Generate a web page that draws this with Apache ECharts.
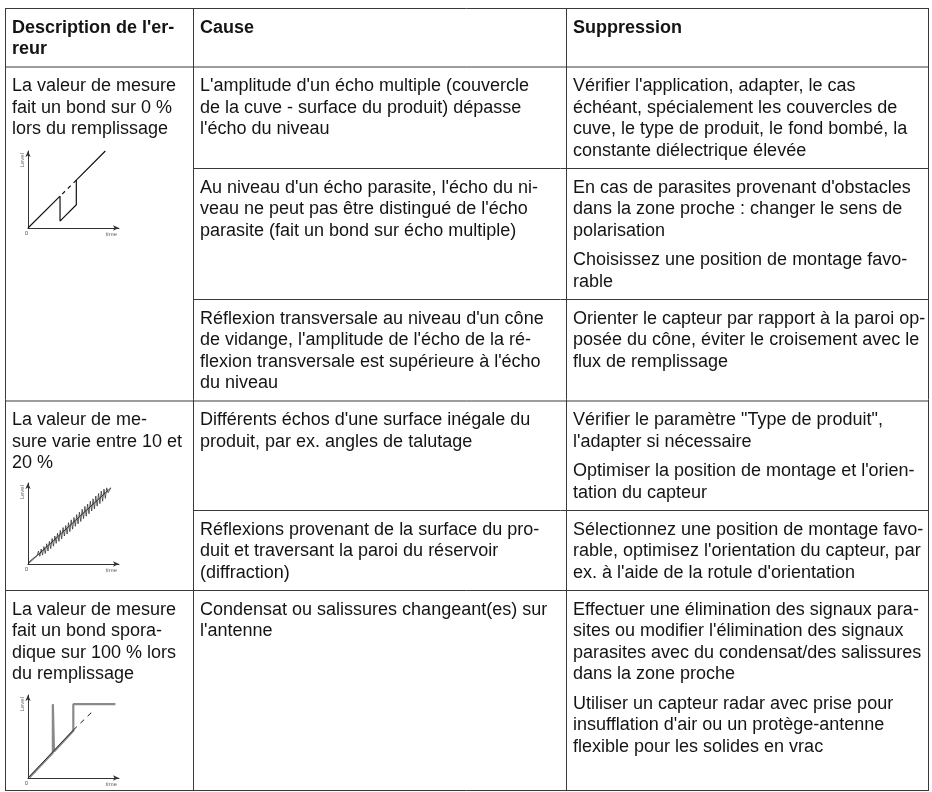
<!DOCTYPE html>
<html><head><meta charset="utf-8">
<script src="https://cdn.jsdelivr.net/npm/echarts@6/dist/echarts.min.js"></script>
<style>html,body{margin:0;padding:0;background:#fff}#c{width:932px;height:792px}</style>
</head><body><div id="c"></div>
<script>
// ---------- table text ----------
const headerCells = [["Description de l'er-", "reur"], ["Cause"], ["Suppression"]];
const descriptions = [
  ["La valeur de mesure", "fait un bond sur 0 %", "lors du remplissage"],
  ["La valeur de me-", "sure varie entre 10 et", "20 %"],
  ["La valeur de mesure", "fait un bond spora-", "dique sur 100 % lors", "du remplissage"]
];
const causes = [
  ["L'amplitude d'un écho multiple (couvercle", "de la cuve - surface du produit) dépasse", "l'écho du niveau"],
  ["Au niveau d'un écho parasite, l'écho du ni-", "veau ne peut pas être distingué de l'écho", "parasite (fait un bond sur écho multiple)"],
  ["Réflexion transversale au niveau d'un cône", "de vidange, l'amplitude de l'écho de la ré-", "flexion transversale est supérieure à l'écho", "du niveau"],
  ["Différents échos d'une surface inégale du", "produit, par ex. angles de talutage"],
  ["Réflexions provenant de la surface du pro-", "duit et traversant la paroi du réservoir", "(diffraction)"],
  ["Condensat ou salissures changeant(es) sur", "l'antenne"]
];
const remedies = [
  [["Vérifier l'application, adapter, le cas", "échéant, spécialement les couvercles de", "cuve, le type de produit, le fond bombé, la", "constante diélectrique élevée"]],
  [["En cas de parasites provenant d'obstacles", "dans la zone proche : changer le sens de", "polarisation"], ["Choisissez une position de montage favo-", "rable"]],
  [["Orienter le capteur par rapport à la paroi op-", "posée du cône, éviter le croisement avec le", "flux de remplissage"]],
  [["Vérifier le paramètre \"Type de produit\",", "l'adapter si nécessaire"], ["Optimiser la position de montage et l'orien-", "tation du capteur"]],
  [["Sélectionnez une position de montage favo-", "rable, optimisez l'orientation du capteur, par", "ex. à l'aide de la rotule d'orientation"]],
  [["Effectuer une élimination des signaux para-", "sites ou modifier l'élimination des signaux", "parasites avec du condensat/des salissures", "dans la zone proche"], ["Utiliser un capteur radar avec prise pour", "insufflation d'air ou un protège-antenne", "flexible pour les solides en vrac"]]
];
// mini chart axis texts
const yAxisName = "Level";
const xAxisName = "time";

// ---------- mini chart data (x: time 0-100, y: level 0-100) ----------
// chart 1: jump to 0 %
const jumpMeasured = [[0, 0], [35.2, 41.3], [35.2, 9], [53.1, 30.2], [53.1, 62.2], [85, 100]];
const jumpLevel = [[35.2, 41.3], [53.1, 62.2]];
// chart 2: fluctuating 10-20 %
const noiseLevel = [[0, 0], [91, 94]];
const noiseMeasured = [[0, 1.5], [5, 6.5], [10, 10.5], [11.5, 16], [13, 9.5], [14.5, 18.5], [16, 11], [17.5, 21.5], [19, 13],
  [20.5, 25], [22, 16], [23.5, 28], [25, 19], [26.5, 31.5], [28, 22], [29.5, 34.5], [31, 25.5], [32.5, 38],
  [34, 28], [35.5, 41.5], [37, 31], [38.5, 45], [40, 34.5], [41.5, 47.5], [43, 37], [44.5, 51], [46, 40],
  [47.5, 54.5], [49, 43], [50.5, 57.5], [52, 46.5], [53.5, 61], [55, 49.5], [56.5, 64], [58, 52.5], [59.5, 67.5],
  [61, 56], [62.5, 71], [64, 59], [65.5, 74], [67, 62], [68.5, 77.5], [70, 65.5], [71.5, 80.5], [73, 68],
  [74.5, 84], [76, 71.5], [77.5, 87], [79, 74.5], [80.5, 90], [82, 77.5], [83.5, 92.5], [85, 81], [86.5, 94],
  [88, 88], [91, 94]];
// chart 3: sporadic jump to 100 %
const spikeLevel = [[0, 0], [49.8, 57.7]];
const spikeLevelDash = [[49.8, 57.7], [70.7, 80]];
const spikeMeasured = [[1.5, 0.5], [27.3, 30.5], [27.3, 89], [28.6, 89], [28.6, 32], [49.8, 57], [49.8, 89], [96, 89]];

// ---------- layout ----------
const colX = [5, 193, 566, 928];
const textX = [12, 200, 573];
const topY = 8, bottomY = 790;
const headLines = [28, 49.5], headY = 66.5;
const subTops = [66.5, 168, 299, 400.5, 510, 590];
const rowTops = [66.5, 400.5, 590];
const LH = 21.5, P1 = 20, PARA = 8;
const FONT = '18px "Liberation Sans", Arial, sans-serif';
const BFONT = 'bold 18px "Liberation Sans", Arial, sans-serif';
const INK = '#141414', RULE = '#3a3a3a';

const g = [];
function txt(x, y, s, bold) {
  g.push({ type: 'text', x: x, y: y, silent: true,
    style: { text: s, font: bold ? BFONT : FONT, fill: INK, verticalAlign: 'middle', align: 'left' } });
}
function line(x1, y1, x2, y2) {
  g.push({ type: 'line', silent: true, shape: { x1: x1, y1: y1, x2: x2, y2: y2 }, style: { stroke: RULE, lineWidth: 1 } });
}
headerCells.forEach((c, i) => c.forEach((s, k) => txt(textX[i], headLines[0] + k * LH, s, true)));
descriptions.forEach((d, r) => d.forEach((s, k) => txt(textX[0], rowTops[r] + P1 + k * LH, s)));
causes.forEach((c, i) => c.forEach((s, k) => txt(textX[1], subTops[i] + P1 + k * LH, s)));
remedies.forEach((paras, i) => {
  let y = subTops[i] + P1;
  paras.forEach(p => { p.forEach(s => { txt(textX[2], y, s); y += LH; }); y += PARA; });
});
line(colX[0], topY + 0.5, colX[3], topY + 0.5);
line(colX[0], headY + 0.5, colX[3], headY + 0.5);
subTops.forEach((y, i) => { if (i === 0) return; const full = rowTops.indexOf(y) >= 0; line(full ? colX[0] : colX[1], y + 0.5, colX[3], y + 0.5); });
line(colX[0], bottomY + 0.5, colX[3], bottomY + 0.5);
colX.forEach(x => line(x + 0.5, topY, x + 0.5, bottomY + 1));

// ---------- mini charts ----------
const grids = [
  { left: 28, top: 151, width: 91, height: 77 },
  { left: 28, top: 483, width: 91, height: 81 },
  { left: 28, top: 695, width: 91, height: 83 }
];
const AX = '#333';
const xAxes = grids.map((gr, i) => ({
  type: 'value', gridIndex: i, min: 0, max: 100,
  axisLine: { show: true, onZero: false, symbol: ['none', 'arrow'], symbolSize: [4, 6], lineStyle: { color: AX, width: 1 } },
  axisTick: { show: false }, splitLine: { show: false },
  axisLabel: { show: true, fontSize: 6, color: '#555', margin: 2, align: 'right', formatter: v => (v === 0 ? '0' : '') },
  name: xAxisName, nameLocation: 'end', nameGap: -2,
  nameTextStyle: { fontSize: 6, color: '#666', align: 'right', verticalAlign: 'top', padding: [3, 0, 0, 0] }
}));
const yAxes = grids.map((gr, i) => ({
  type: 'value', gridIndex: i, min: 0, max: 100,
  axisLine: { show: true, onZero: false, symbol: ['none', 'arrow'], symbolSize: [4, 6], lineStyle: { color: AX, width: 1 } },
  axisTick: { show: false }, splitLine: { show: false }, axisLabel: { show: false },
  name: yAxisName, nameLocation: 'end', nameGap: -2, nameRotate: 90,
  nameTextStyle: { fontSize: 6, color: '#666', align: 'right', verticalAlign: 'bottom', padding: [0, 0, 3, 0] }
}));
function ser(i, data, st) {
  return Object.assign({ type: 'line', xAxisIndex: i, yAxisIndex: i, data: data, showSymbol: false, symbol: 'none',
    silent: true, clip: false, animation: false }, st);
}
const series = [
  ser(0, jumpMeasured, { lineStyle: { color: '#111', width: 1.2 } }),
  ser(0, jumpLevel, { lineStyle: { color: '#111', width: 1.2, type: [4, 4], dashOffset: -3 } }),
  ser(1, noiseLevel, { lineStyle: { color: '#111', width: 0.8 } }),
  ser(1, noiseMeasured, { lineStyle: { color: '#222', width: 0.7 } }),
  ser(2, spikeMeasured, { lineStyle: { color: '#8a8a8a', width: 2.2 } }),
  ser(2, spikeLevel, { lineStyle: { color: '#111', width: 0.8 } }),
  ser(2, spikeLevelDash, { lineStyle: { color: '#111', width: 1, type: [5, 5] } })
];

const chart = echarts.init(document.getElementById('c'), null, { renderer: 'canvas' });
chart.setOption({
  animation: false,
  backgroundColor: '#fff',
  grid: grids, xAxis: xAxes, yAxis: yAxes, series: series,
  graphic: { elements: g }
});
</script></body></html>
